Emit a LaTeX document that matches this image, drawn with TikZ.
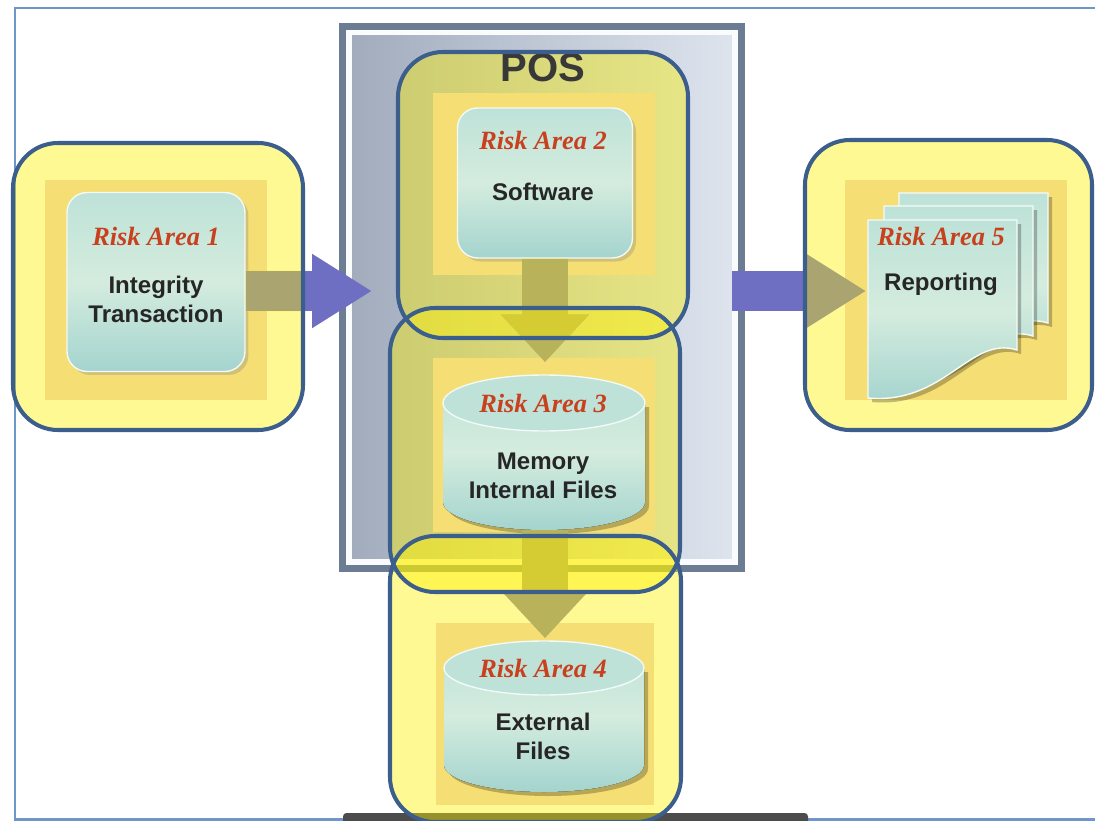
\documentclass[tikz,border=0pt]{standalone}
\usepackage{fontspec}
\setmainfont{Liberation Serif}
\setsansfont{Liberation Sans}
\usepackage{xcolor}
\usepackage{tikz}
\usetikzlibrary{arrows.meta,calc,positioning,shadows}

\definecolor{rahmen}{HTML}{3B5E8C}
\definecolor{blattrand}{HTML}{6E96C8}
\definecolor{gold}{HTML}{F5DE74}
\definecolor{tuerkisH}{HTML}{BEE2D8}
\definecolor{tuerkisM}{HTML}{D4ECDE}
\definecolor{tuerkisD}{HTML}{A4D4CE}
\definecolor{risikorot}{HTML}{C8401E}
\definecolor{schrift}{HTML}{262626}
\definecolor{violett}{HTML}{6E6EC2}
\definecolor{grauviolett}{HTML}{85859E}
\definecolor{posrand}{HTML}{6C7C92}
\definecolor{posdunkel}{HTML}{A2ACBD}
\definecolor{poshell}{HTML}{DDE4EE}

\begin{document}
\begin{tikzpicture}[x=0.02cm,y=-0.02cm,>=Latex,
  hinter/.style={fill=gold,inner sep=0pt},
  kasten/.style={draw=white!80!tuerkisH,line width=0.8pt,rounded corners=0.4cm,
    top color=tuerkisH,bottom color=tuerkisD,middle color=tuerkisM,inner sep=0pt,
    drop shadow={opacity=0.3,shadow xshift=2pt,shadow yshift=-2pt}},
  leer/.style={inner sep=0pt},
  titel/.style={font=\fontsize{15}{18}\selectfont\bfseries\itshape,text=risikorot},
  beschr/.style={font=\sffamily\bfseries\fontsize{13.7}{16.4}\selectfont,text=schrift,align=center},
  markfl/.style={fill=yellow,fill opacity=0.42,rounded corners=0.9cm},
  markierung/.style={draw=rahmen,line width=2.3pt,rounded corners=0.9cm},
  pfeilh/.style={line width=0.82cm,draw=violett,-{Triangle[length=1.2cm,width=1.4cm]}},
  pfeilv/.style={line width=0.92cm,draw=grauviolett,-{Triangle[length=0.95cm,width=1.7cm]}},
  gelbton/.style={transparency group,opacity=0.42},
  zylinder/.style={top color=tuerkisH,bottom color=tuerkisD,middle color=tuerkisM},
  seite/.style={draw=white!85!tuerkisH,line width=0.8pt,top color=tuerkisH,bottom color=tuerkisD,middle color=tuerkisM}
]
  \useasboundingbox (0,0) rectangle (1095,821);
  \fill[white] (0,0) rectangle (1095,821);

  % Blattrahmen
  \draw[blattrand,line width=1.7pt] (1095,8) -- (15,8) -- (15,819) -- (1095,819);
  \fill[black!70,rounded corners=2pt] (343,813) rectangle (808,825);

  % POS-Gehaeuse
  \fill[posrand] (339,23) rectangle (745,572);
  \fill[white!85!poshell] (346,30) rectangle (738,565);
  \node[leer,left color=posdunkel,right color=poshell,minimum width=7.6cm,minimum height=10.48cm] (pos) at (542,297) {};

  % Markierungsflaechen (unter den Kaesten)
  \fill[markfl] (13,143) rectangle (303,430);
  \fill[markfl] (398,52) rectangle (688,338);
  \fill[markfl] (390,308) rectangle (680,592);
  \fill[markfl] (390,536) rectangle (681,822);
  \fill[markfl] (805,140) rectangle (1092,430);

  \node[font=\sffamily\bfseries\fontsize{22.8}{26}\selectfont,text=black!78] (postitel) at (543,68) {POS};

  % Risk Area 1
  \node[hinter,minimum width=4.44cm,minimum height=4.4cm] (ra1bg) at (156,290) {};
  \node[kasten,minimum width=3.56cm,minimum height=3.58cm] (ra1) at (156,282) {};
  \node[titel] (t1) at (156,236) {Risk Area 1};
  \node[beschr] (l1) at (156,299) {Integrity\\Transaction};

  % Risk Area 2
  \node[hinter,minimum width=4.46cm,minimum height=3.66cm] (ra2bg) at (544,184) {};
  \node[kasten,minimum width=3.5cm,minimum height=3.0cm] (ra2) at (545,183) {};
  \node[titel] (t2) at (543,140) {Risk Area 2};
  \node[beschr] (l2) at (543,192) {Software};

  % Risk Area 3
  \node[hinter,minimum width=4.44cm,minimum height=3.48cm] (ra3bg) at (544,445) {};
  \fill[black,opacity=0.25] (447,407) -- (447,506) arc[start angle=180,end angle=0,x radius=101,y radius=28]
    -- (649,407) -- cycle;
  \fill[zylinder] (443,403) -- (443,502) arc[start angle=180,end angle=0,x radius=101,y radius=28]
    -- (645,403) arc[start angle=360,end angle=180,x radius=101,y radius=28] -- cycle;
  \draw[white!80!tuerkisH,line width=0.8pt,fill=tuerkisH] (544,403) ellipse[x radius=101,y radius=28];
  \node[leer,minimum width=4.04cm,minimum height=3.1cm] (ra3) at (544,452) {};
  \node[titel] (t3) at (543,403) {Risk Area 3};
  \node[beschr] (l3) at (543,476) {Memory\\Internal Files};

  % Risk Area 4
  \node[hinter,minimum width=4.36cm,minimum height=3.66cm] (ra4bg) at (545,714) {};
  \fill[black,opacity=0.25] (448,672) -- (448,769) arc[start angle=180,end angle=0,x radius=100,y radius=27]
    -- (648,672) -- cycle;
  \fill[zylinder] (444,668) -- (444,765) arc[start angle=180,end angle=0,x radius=100,y radius=27]
    -- (644,668) arc[start angle=360,end angle=180,x radius=100,y radius=27] -- cycle;
  \draw[white!80!tuerkisH,line width=0.8pt,fill=tuerkisH] (544,668) ellipse[x radius=100,y radius=27];
  \node[leer,minimum width=4.0cm,minimum height=3.02cm] (ra4) at (544,716) {};
  \node[titel] (t4) at (543,668) {Risk Area 4};
  \node[beschr] (l4) at (543,736) {External\\Files};

  % Risk Area 5: Blattstapel
  \node[hinter,minimum width=4.44cm,minimum height=4.4cm] (ra5bg) at (956,290) {};
  \foreach \dx/\dy in {31/-27,16/-14,0/0}{
    \fill[black,opacity=0.25,shift={(\dx+4,\dy+4)}] (868,220) -- (1017,220) -- (1017,350)
      .. controls (970,335) and (945,405) .. (868,398) -- cycle;
    \draw[seite,shift={(\dx,\dy)}] (868,220) -- (1017,220) -- (1017,350)
      .. controls (970,335) and (945,405) .. (868,398) -- cycle;
  }
  \node[leer,minimum width=2.98cm,minimum height=3.56cm] (ra5) at (942,309) {};
  \node[titel] (t5) at (941,236) {Risk Area 5};
  \node[beschr] (l5) at (941,284) {Reporting};

  % Pfeile
  \coordinate (e1) at (372,291);
  \coordinate (e2) at (545,362);
  \coordinate (e3) at (545,638);
  \coordinate (e4) at (866,291);
  \draw[pfeilh] (ra1.east |- e1) -- (e1);
  \draw[pfeilv] (ra2.south -| e2) -- (e2);
  \draw[pfeilv] (ra3.south -| e3) -- (e3);
  \draw[pfeilh] (pos.east |- e4) -- (e4);

  % Pfeile unter den Markierungen gelb getoent
  \begin{scope}[gelbton]
    \clip[rounded corners=0.9cm] (13,143) rectangle (303,430);
    \draw[pfeilh,draw=yellow] (ra1.east |- e1) -- (e1);
  \end{scope}
  \begin{scope}[gelbton]
    \clip[rounded corners=0.9cm] (398,52) rectangle (688,338);
    \draw[pfeilv,draw=yellow] (ra2.south -| e2) -- (e2);
  \end{scope}
  \begin{scope}[gelbton]
    \clip[rounded corners=0.9cm] (390,308) rectangle (680,592);
    \draw[pfeilv,draw=yellow] (ra2.south -| e2) -- (e2);
    \draw[pfeilv,draw=yellow] (ra3.south -| e3) -- (e3);
  \end{scope}
  \begin{scope}[gelbton]
    \clip[rounded corners=0.9cm] (390,536) rectangle (681,822);
    \draw[pfeilv,draw=yellow] (ra3.south -| e3) -- (e3);
  \end{scope}
  \begin{scope}[gelbton]
    \clip[rounded corners=0.9cm] (805,140) rectangle (1092,430);
    \draw[pfeilh,draw=yellow] (pos.east |- e4) -- (e4);
  \end{scope}

  % Markierungsraender
  \draw[markierung] (13,143) rectangle (303,430);
  \draw[markierung] (398,52) rectangle (688,338);
  \draw[markierung] (390,308) rectangle (680,592);
  \draw[markierung] (390,536) rectangle (681,822);
  \draw[markierung] (805,140) rectangle (1092,430);
\end{tikzpicture}
\end{document}
